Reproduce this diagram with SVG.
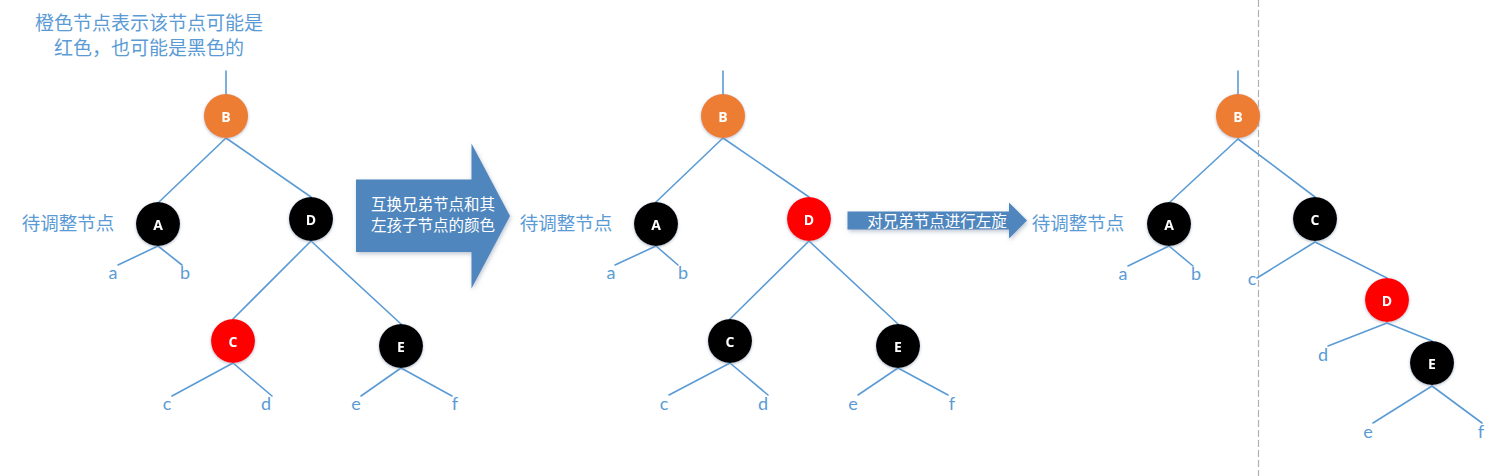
<svg xmlns="http://www.w3.org/2000/svg" width="1511" height="476" viewBox="0 0 1511 476">
<defs>
<filter id="sh" x="-30%" y="-30%" width="160%" height="160%">
<feDropShadow dx="0" dy="1" stdDeviation="1.5" flood-color="#7f8fa6" flood-opacity="0.6"/>
</filter>
<filter id="ash" x="-10%" y="-20%" width="120%" height="140%">
<feDropShadow dx="1" dy="2" stdDeviation="2" flood-color="#7f8fa6" flood-opacity="0.5"/>
</filter>
</defs>
<style>
.ln{stroke:#5B9BD5;stroke-width:1.6;fill:none;stroke-linecap:round}
.nd{filter:url(#sh)}
.or{fill:#ED7D31}
.rd{fill:#FF0000}
.bk{fill:#000000}
.nl{font-family:"Open Sans","DejaVu Sans",sans-serif;font-weight:bold;font-size:14px;fill:#fff;text-anchor:middle;dominant-baseline:central}
.lf{font-family:Lato,"Liberation Sans",sans-serif;font-size:18px;fill:#5B9BD5;text-anchor:middle;dominant-baseline:central}
.cn{font-family:"Noto Sans CJK SC",sans-serif;fill:#5B9BD5;text-anchor:middle;dominant-baseline:central}
.aw{fill:#4F86BD;filter:url(#ash)}
.at{font-family:"Noto Sans CJK SC",sans-serif;fill:#fff;text-anchor:middle;dominant-baseline:central;font-size:15.5px}
</style>
<rect width="1511" height="476" fill="#fff"/>
<line x1="1258.5" y1="0" x2="1258.5" y2="476" stroke="#b0b0b0" stroke-width="1.2" stroke-dasharray="7 3"/>
<g id="connectors">
<line class="ln" x1="226" y1="71" x2="226" y2="94"/>
<line class="ln" x1="226" y1="138" x2="159" y2="202"/>
<line class="ln" x1="226" y1="138" x2="311" y2="197"/>
<line class="ln" x1="158" y1="246" x2="118" y2="265"/>
<line class="ln" x1="158" y1="246" x2="182" y2="265"/>
<line class="ln" x1="311" y1="241" x2="233" y2="319"/>
<line class="ln" x1="311" y1="241" x2="401" y2="324"/>
<line class="ln" x1="233" y1="363" x2="172" y2="396"/>
<line class="ln" x1="233" y1="363" x2="272" y2="396"/>
<line class="ln" x1="401" y1="368" x2="361" y2="396"/>
<line class="ln" x1="401" y1="368" x2="452" y2="396"/>
<line class="ln" x1="723" y1="71" x2="723" y2="94"/>
<line class="ln" x1="723" y1="138" x2="656" y2="202"/>
<line class="ln" x1="723" y1="138" x2="809" y2="197"/>
<line class="ln" x1="656" y1="246" x2="615" y2="265"/>
<line class="ln" x1="656" y1="246" x2="678" y2="265"/>
<line class="ln" x1="809" y1="241" x2="730" y2="319"/>
<line class="ln" x1="809" y1="241" x2="898" y2="324"/>
<line class="ln" x1="730" y1="363" x2="669" y2="395"/>
<line class="ln" x1="730" y1="363" x2="768" y2="395"/>
<line class="ln" x1="898" y1="368" x2="858" y2="395"/>
<line class="ln" x1="898" y1="368" x2="948" y2="395"/>
<line class="ln" x1="1238" y1="71" x2="1238" y2="94"/>
<line class="ln" x1="1238" y1="139" x2="1170" y2="202"/>
<line class="ln" x1="1238" y1="139" x2="1315" y2="197"/>
<line class="ln" x1="1169" y1="246" x2="1128" y2="266"/>
<line class="ln" x1="1169" y1="246" x2="1193" y2="266"/>
<line class="ln" x1="1315" y1="242" x2="1257" y2="278"/>
<line class="ln" x1="1315" y1="242" x2="1387" y2="278"/>
<line class="ln" x1="1387" y1="323" x2="1328" y2="346"/>
<line class="ln" x1="1387" y1="323" x2="1432" y2="341"/>
<line class="ln" x1="1432" y1="386" x2="1373" y2="423"/>
<line class="ln" x1="1432" y1="386" x2="1482" y2="423"/>
</g>
<g id="caption">
<text class="cn" x="149" y="21" font-size="19">橙色节点表示该节点可能是</text>
<text class="cn" x="149" y="46" font-size="19">红色，也可能是黑色的</text>
</g>
<g id="t1B" class="nd"><circle class="or" cx="226" cy="116" r="22"/><text class="nl" x="226" y="116">B</text></g>
<g id="t1A" class="nd"><circle class="bk" cx="158" cy="224" r="22"/><text class="nl" x="158" y="224">A</text></g>
<g id="t1D" class="nd"><circle class="bk" cx="311" cy="219" r="22"/><text class="nl" x="311" y="219">D</text></g>
<g id="t1C" class="nd"><circle class="rd" cx="233" cy="341" r="22"/><text class="nl" x="233" y="341">C</text></g>
<g id="t1E" class="nd"><circle class="bk" cx="401" cy="346" r="22"/><text class="nl" x="401" y="346">E</text></g>
<g id="t1labels">
<text class="cn" x="68" y="222" font-size="18.5">待调整节点</text>
<text class="lf" x="113" y="272">a</text>
<text class="lf" x="185" y="272">b</text>
<text class="lf" x="167" y="403">c</text>
<text class="lf" x="266" y="403">d</text>
<text class="lf" x="356" y="403">e</text>
<text class="lf" x="455" y="403">f</text>
</g>
<g id="arrow1">
<path class="aw" d="M356,179.5 H471.5 V143.5 L510,216 L471.5,288.5 V252 H356 Z"/>
<text class="at" x="433" y="203">互换兄弟节点和其</text>
<text class="at" x="433" y="224">左孩子节点的颜色</text>
</g>
<g id="t2B" class="nd"><circle class="or" cx="723" cy="116" r="22"/><text class="nl" x="723" y="116">B</text></g>
<g id="t2A" class="nd"><circle class="bk" cx="656" cy="224" r="22"/><text class="nl" x="656" y="224">A</text></g>
<g id="t2D" class="nd"><circle class="rd" cx="809" cy="219" r="22"/><text class="nl" x="809" y="219">D</text></g>
<g id="t2C" class="nd"><circle class="bk" cx="730" cy="341" r="22"/><text class="nl" x="730" y="341">C</text></g>
<g id="t2E" class="nd"><circle class="bk" cx="898" cy="346" r="22"/><text class="nl" x="898" y="346">E</text></g>
<g id="t2labels">
<text class="cn" x="566" y="222" font-size="18.5">待调整节点</text>
<text class="lf" x="611" y="272">a</text>
<text class="lf" x="683" y="272">b</text>
<text class="lf" x="664" y="403">c</text>
<text class="lf" x="763" y="403">d</text>
<text class="lf" x="853" y="403">e</text>
<text class="lf" x="952" y="403">f</text>
</g>
<g id="arrow2">
<path class="aw" d="M847.5,211.5 H1009 V202.5 L1027,220.5 L1009,238.5 V229.5 H847.5 Z"/>
<text class="at" x="937" y="220">对兄弟节点进行左旋</text>
</g>
<g id="t3B" class="nd"><circle class="or" cx="1238" cy="116" r="22"/><text class="nl" x="1238" y="116">B</text></g>
<g id="t3A" class="nd"><circle class="bk" cx="1169" cy="224" r="22"/><text class="nl" x="1169" y="224">A</text></g>
<g id="t3C" class="nd"><circle class="bk" cx="1315" cy="219" r="22"/><text class="nl" x="1315" y="219">C</text></g>
<g id="t3D" class="nd"><circle class="rd" cx="1387" cy="300" r="22"/><text class="nl" x="1387" y="300">D</text></g>
<g id="t3E" class="nd"><circle class="bk" cx="1432" cy="363" r="22"/><text class="nl" x="1432" y="363">E</text></g>
<g id="t3labels">
<text class="cn" x="1078" y="222" font-size="18.5">待调整节点</text>
<text class="lf" x="1123" y="273">a</text>
<text class="lf" x="1196" y="273">b</text>
<text class="lf" x="1252" y="278">c</text>
<text class="lf" x="1323" y="354">d</text>
<text class="lf" x="1368" y="431">e</text>
<text class="lf" x="1481" y="431">f</text>
</g>
</svg>
